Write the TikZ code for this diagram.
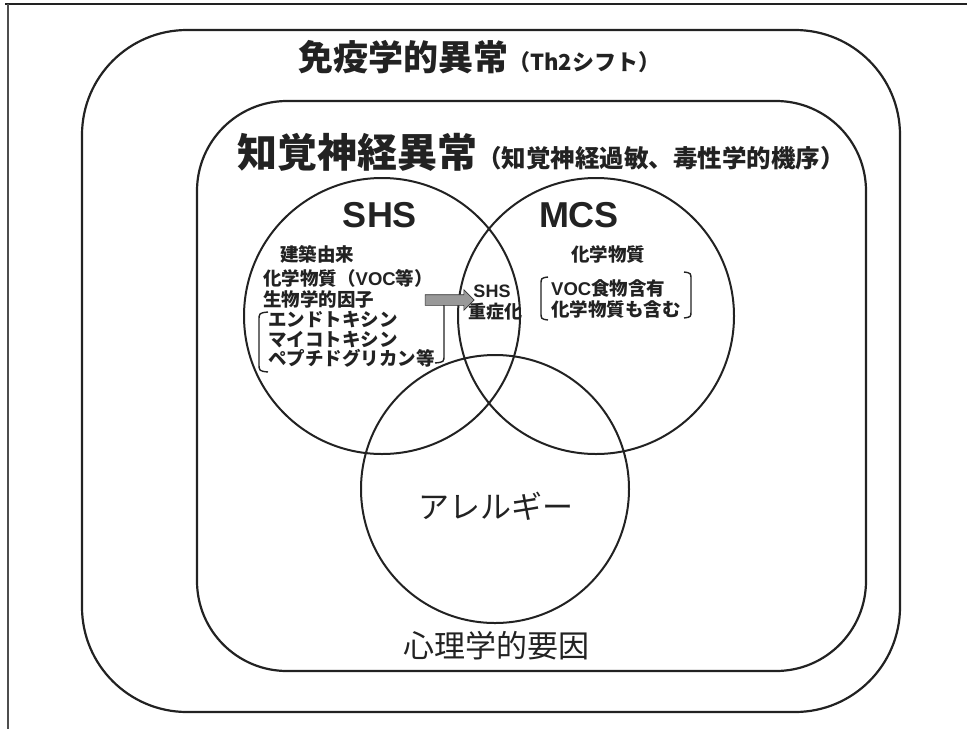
\documentclass[tikz,border=0pt]{standalone}
\usepackage{fontspec}
\setmainfont{Noto Sans CJK JP}
\newfontfamily\lat{Liberation Sans}
\usetikzlibrary{shapes.arrows}
\definecolor{ink}{HTML}{222222}
\tikzset{
  shapeline/.style={draw=ink, line width=2.2pt},
  circ/.style={draw=ink, line width=2pt, circle, inner sep=0pt},
  bracket/.style={draw=ink, line width=1.4pt},
  jptext/.style={inner sep=0pt, text=ink, font=\bfseries\fontsize{#1}{#1}\selectfont},
  lattext/.style={inner sep=0pt, text=ink, font=\lat\bfseries\fontsize{#1}{#1}\selectfont}
}
\begin{document}
\begin{tikzpicture}[x=1pt,y=-1pt]
\useasboundingbox (0,0) rectangle (967,729);
% page frame (top and left edges)
\draw[draw=ink, line width=2.6pt] (5,4) -- (967,4);
\draw[draw=ink!80, line width=1.4pt] (8,4) -- (8,729);
% outer and inner rounded boxes
\draw[shapeline, rounded corners=105pt] (82,30) rectangle (900,712);
\draw[shapeline, rounded corners=90pt] (197,101) rectangle (866,671);
% titles
\node[jptext=35, anchor=west] (t1) at (298,57) {免疫学的異常{\fontsize{22}{22}\selectfont（Th2シフト）}};
\node[jptext=40, anchor=west] (t2) at (237,152) {知覚神経異常{\fontsize{24.5}{24.5}\selectfont（知覚神経過敏、毒性学的機序）}};
% circles
\node[circ, minimum size=276pt] (shs) at (382,316) {};
\node[circ, minimum size=276pt] (mcs) at (596,316) {};
\node[circ, minimum size=268pt] (all) at (495,489) {};
% SHS labels
\node[lattext=36] (shsl) at (380,215) {SHS};
\node[lattext=36] (mcsl) at (579,215) {MCS};
\node[jptext=18.5, anchor=west] (s1) at (280,254) {建築由来};
\node[jptext=18.5, anchor=west] (s2) at (263,278) {化学物質（{\lat\bfseries VOC}等）};
\node[jptext=18.5, anchor=west] (s3) at (263,299) {生物学的因子};
\node[jptext=18.5, anchor=west] (s4) at (268,320) {エンドトキシン};
\node[jptext=18.5, anchor=west] (s5) at (268,340) {マイコトキシン};
\node[jptext=18.5, anchor=west] (s6) at (268,358) {ペプチドグリカン等};
\draw[bracket] (268,312) .. controls (259,313) .. (259,321) -- (259,363) .. controls (259,371) .. (268,372);
\draw[bracket] (435,300) .. controls (444,301) .. (444,309) -- (444,355) .. controls (444,362) .. (435,363);
% arrow to SHS severe
\node[single arrow, fill=gray!80, draw=gray!40!black, line width=0.6pt,
      minimum height=49pt, inner sep=0pt, inner ysep=5pt,
      single arrow head extend=5pt] (arr) at (447,300) {};
\node[lattext=18] (sev1) at (492,291) {SHS};
\node[jptext=18] (sev2) at (495,312) {重症化};
% MCS text
\node[jptext=18.5] (m1) at (608,254) {化学物質};
\node[jptext=18.5, anchor=west] (m2) at (551,288) {{\lat\bfseries VOC}食物含有};
\node[jptext=18.5, anchor=west] (m3) at (551,309) {化学物質も含む};
\draw[bracket] (548,277) .. controls (541,278) .. (541,285) -- (541,312) .. controls (541,319) .. (548,320);
\draw[bracket] (684,272) .. controls (691,273) .. (691,280) -- (691,311) .. controls (691,317) .. (684,318);
% allergy and psychological factor
\node[inner sep=0pt, text=ink, font=\fontsize{31}{31}\selectfont] (al) at (496,506) {アレルギー};
\node[inner sep=0pt, text=ink, font=\fontsize{31}{31}\selectfont] (ps) at (496,646) {心理学的要因};
\end{tikzpicture}
\end{document}
